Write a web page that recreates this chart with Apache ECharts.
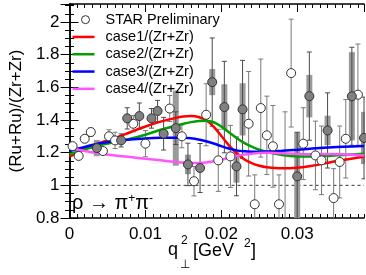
<!DOCTYPE html>
<html><head><meta charset="utf-8">
<script src="https://cdn.jsdelivr.net/npm/echarts@6/dist/echarts.min.js"></script>
<style>html,body{margin:0;padding:0;background:#fff}#c{width:366px;height:275px}</style>
</head><body><div id="c"></div><script>
// ---- data ----
const openX   = [0.0004,0.0012,0.0020,0.0028,0.0044,0.0052,0.0060,0.0084,0.0100,0.0132,0.0148,0.0164,0.0180,0.0196,0.0212,0.0236,0.0244,0.0252,0.0260,0.0268,0.0276,0.0284,0.0292,0.0308,0.0324,0.0332,0.0348,0.0356,0.0364,0.0380];
const openY   = [1.24,1.18,1.285,1.326,1.21,1.30,1.275,1.377,1.255,1.47,1.30,1.025,1.432,1.153,1.177,1.377,0.884,1.473,1.306,1.239,0.884,0.75,1.687,1.255,1.183,1.153,0.922,1.143,1.285,1.555];
const openErr = [0.02,0.02,0.02,0.025,0.02,0.04,0.05,0.05,0.08,0.08,0.07,0.09,0.19,0.19,0.19,0.32,0.18,0.30,0.24,0.25,0.18,0.70,0.33,0.22,0.21,0.21,0.18,0.22,0.24,0.31];

const filledX    = [0.0036,0.0068,0.0076,0.0092,0.0108,0.0116,0.0124,0.0140,0.0156,0.0172,0.0188,0.0204,0.0220,0.0228,0.0300,0.0316,0.0340,0.0372,0.0388];
const filledY    = [1.228,1.275,1.41,1.424,1.41,1.455,1.316,1.35,1.128,1.106,1.632,1.479,1.116,1.465,1.055,1.546,1.336,1.545,1.29];
const filledErr  = [0.02,0.04,0.065,0.08,0.06,0.065,0.10,0.10,0.13,0.15,0.27,0.28,0.18,0.30,0.27,0.27,0.23,0.30,0.25];
const filledSyst = [0.05,0,0,0,0,0,0,0.23,0.06,0,0.08,0.14,0.10,0.16,0.27,0.13,0.09,0.27,0.16];

const curveX = [0,0.002,0.004,0.006,0.008,0.010,0.012,0.014,0.015,0.016,0.017,0.018,0.019,0.020,0.021,0.022,0.023,0.024,0.025,0.026,0.028,0.030,0.032,0.034,0.036,0.0388];
const case1Y = [1.175,1.22,1.26,1.29,1.325,1.36,1.39,1.413,1.421,1.424,1.418,1.398,1.358,1.302,1.245,1.197,1.16,1.136,1.12,1.111,1.104,1.108,1.12,1.138,1.155,1.175];
const case2Y = [1.19,1.22,1.245,1.265,1.285,1.31,1.34,1.365,1.377,1.387,1.394,1.396,1.386,1.36,1.325,1.29,1.26,1.237,1.218,1.204,1.186,1.177,1.176,1.18,1.186,1.194];
const case3Y = [1.21,1.235,1.257,1.27,1.28,1.287,1.291,1.292,1.291,1.288,1.281,1.27,1.256,1.24,1.225,1.214,1.208,1.205,1.205,1.207,1.212,1.218,1.225,1.231,1.236,1.24];
const case4Y = [1.23,1.21,1.195,1.183,1.173,1.163,1.153,1.143,1.139,1.137,1.137,1.14,1.147,1.157,1.168,1.179,1.188,1.194,1.198,1.199,1.196,1.192,1.191,1.192,1.19,1.182];

const seriesNames = ['STAR Preliminary','case1/(Zr+Zr)','case2/(Zr+Zr)','case3/(Zr+Zr)','case4/(Zr+Zr)'];
const curveColors = ['#ff0000','#00a000','#0000ff','#ff55ff'];
const xTicksMajor = 0.01, xTicksMinor = 0.001, yTicksMajor = 0.2, yTicksMinor = 0.05;
const XMIN = 0, XMAX = 0.0388, YMIN = 0.8, YMAX = 2.11;

// ---- chart ----
const FONT = 'Liberation Sans, Arial, Helvetica, sans-serif';
const chart = echarts.init(document.getElementById('c'));

function errSeries(xs, ys, es, color) {
  return {type:'custom', xAxisIndex:0, yAxisIndex:0, clip:true, z:3, silent:true,
    data: xs.map((x,i)=>[x, ys[i]-es[i], ys[i]+es[i]]),
    renderItem(params, api){
      const lo = api.coord([api.value(0), api.value(1)]);
      const hi = api.coord([api.value(0), api.value(2)]);
      const cw = 2.5, st = {stroke:color, lineWidth:1};
      return {type:'group', children:[
        {type:'line', shape:{x1:lo[0],y1:lo[1],x2:hi[0],y2:hi[1]}, style:st},
        {type:'line', shape:{x1:lo[0]-cw,y1:lo[1],x2:lo[0]+cw,y2:lo[1]}, style:st},
        {type:'line', shape:{x1:hi[0]-cw,y1:hi[1],x2:hi[0]+cw,y2:hi[1]}, style:st}
      ]};
    }};
}
function systSeries(xs, ys, ss, color) {
  return {type:'custom', xAxisIndex:0, yAxisIndex:0, clip:true, z:2, silent:true,
    data: xs.map((x,i)=>[x, ys[i]-ss[i], ys[i]+ss[i]]).filter((d,i)=>ss[i]>0),
    renderItem(params, api){
      const lo = api.coord([api.value(0), api.value(1)]);
      const hi = api.coord([api.value(0), api.value(2)]);
      const w = 6;
      return {type:'rect', shape:{x:lo[0]-w/2, y:hi[1], width:w, height:lo[1]-hi[1]}, style:{fill:color}};
    }};
}

function xAxisCfg(pos, major) {
  return {type:'value', min:XMIN, max:XMAX, interval: major ? xTicksMajor : xTicksMinor, position:pos,
    axisLine:{show:major, lineStyle:{color:'#000', width:1.5}},
    axisTick:{show:true, inside:true, length: major ? 8 : 4, lineStyle:{color:'#000', width:1}},
    axisLabel:{show: major && pos==='bottom', fontSize:17, color:'#000', fontFamily:FONT, margin:8, showMaxLabel:false,
      formatter: v => (Math.abs(v*100 - Math.round(v*100)) < 1e-6) ? String(+v.toFixed(2)) : ''},
    splitLine:{show:false}};
}
function yAxisCfg(pos, major) {
  const a = {type:'value', min:YMIN, max:YMAX, interval: major ? yTicksMajor : yTicksMinor, position:pos,
    axisLine:{show:major, lineStyle:{color:'#000', width:1.5}},
    axisTick:{show:true, inside:true, length: major ? 9 : 4.5, lineStyle:{color:'#000', width:1}},
    axisLabel:{show: major && pos==='left', fontSize:17, color:'#000', fontFamily:FONT, margin:10, showMaxLabel:false},
    splitLine:{show:false}};
  if (major && pos==='left') {
    a.name = '(Ru+Ru)/(Zr+Zr)'; a.nameLocation = 'middle'; a.nameGap = 41;
    a.nameTextStyle = {fontSize:17, color:'#000', fontFamily:FONT};
  }
  return a;
}

const series = [
  systSeries(filledX, filledY, filledSyst, '#9a9a9a'),
  errSeries(openX, openY, openErr, '#7a7a7a'),
  errSeries(filledX, filledY, filledErr, '#4a4a4a'),
  {type:'line', xAxisIndex:0, yAxisIndex:0, data:[[XMIN,1],[XMAX,1]], symbol:'none', silent:true, z:1,
    lineStyle:{color:'#333', width:1, type:[3,3]}},
  {type:'scatter', name:seriesNames[0], xAxisIndex:0, yAxisIndex:0, z:6, symbol:'circle', symbolSize:9,
    data: openX.map((x,i)=>[x, openY[i]]), itemStyle:{color:'#ffffff', borderColor:'#333', borderWidth:1, opacity:1}},
  {type:'scatter', name:'filled', xAxisIndex:0, yAxisIndex:0, z:6, symbol:'circle', symbolSize:9,
    data: filledX.map((x,i)=>[x, filledY[i]]), itemStyle:{color:'#808080', borderColor:'#333', borderWidth:1, opacity:1}}
];
[case1Y, case2Y, case3Y, case4Y].forEach((ys, k) => {
  series.push({type:'line', name:seriesNames[k+1], xAxisIndex:0, yAxisIndex:0, z:5, smooth:0.3, symbol:'none', silent:true,
    data: curveX.map((x,i)=>[x, ys[i]]), lineStyle:{color:curveColors[k], width:2.5}, itemStyle:{color:curveColors[k]}});
});

const lineIcon = 'path://M0,0 M22,9 M0,3.25 L22,3.25 L22,5.75 L0,5.75 Z';
const circIcon = 'path://M0,0 M22,9 M9,4.5 A4,4 0 1 1 17,4.5 A4,4 0 1 1 9,4.5 Z';

chart.setOption({
  animation:false,
  backgroundColor:'#fff',
  grid:{left:64, right:2, top:4, bottom:57, containLabel:false},
  xAxis:[xAxisCfg('bottom',true), xAxisCfg('bottom',false), xAxisCfg('top',true), xAxisCfg('top',false)],
  yAxis:[yAxisCfg('left',true), yAxisCfg('left',false), yAxisCfg('right',true), yAxisCfg('right',false)],
  legend:{show:true, orient:'vertical', left:67, top:6, itemWidth:22, itemHeight:9, itemGap:0, selectedMode:false,
    textStyle:{fontSize:14.5, color:'#000', fontFamily:FONT, lineHeight:17.3, padding:[0,0,0,6]},
    data: seriesNames.map((n,i) => i===0
      ? {name:n, icon:circIcon, itemStyle:{color:'#fff', borderColor:'#333', borderWidth:1}}
      : {name:n, icon:lineIcon, itemStyle:{color:curveColors[i-1], borderWidth:0}})},
  graphic:[
    {type:'text', x:72, y:203, style:{text:'ρ → π{s|+}π{s|-}', font:'20px '+FONT, fill:'#000', textVerticalAlign:'middle',
      rich:{s:{fontSize:12, fontFamily:FONT, verticalAlign:'top', fill:'#000'}}}},
    {type:'text', x:168, y:250, style:{text:'q', font:'18px '+FONT, fill:'#000', textVerticalAlign:'middle'}},
    {type:'text', x:181, y:241, style:{text:'2', font:'12px '+FONT, fill:'#000', textVerticalAlign:'middle'}},
    {type:'text', x:180, y:265, style:{text:'⊥', font:'12px DejaVu Sans, sans-serif', fill:'#000', textVerticalAlign:'middle'}},
    {type:'text', x:193, y:251, style:{text:'[GeV', font:'18px '+FONT, fill:'#000', textVerticalAlign:'middle'}},
    {type:'text', x:244, y:244, style:{text:'2', font:'12px '+FONT, fill:'#000', textVerticalAlign:'middle'}},
    {type:'text', x:251, y:251, style:{text:']', font:'18px '+FONT, fill:'#000', textVerticalAlign:'middle'}}
  ],
  series
});
</script></body></html>
